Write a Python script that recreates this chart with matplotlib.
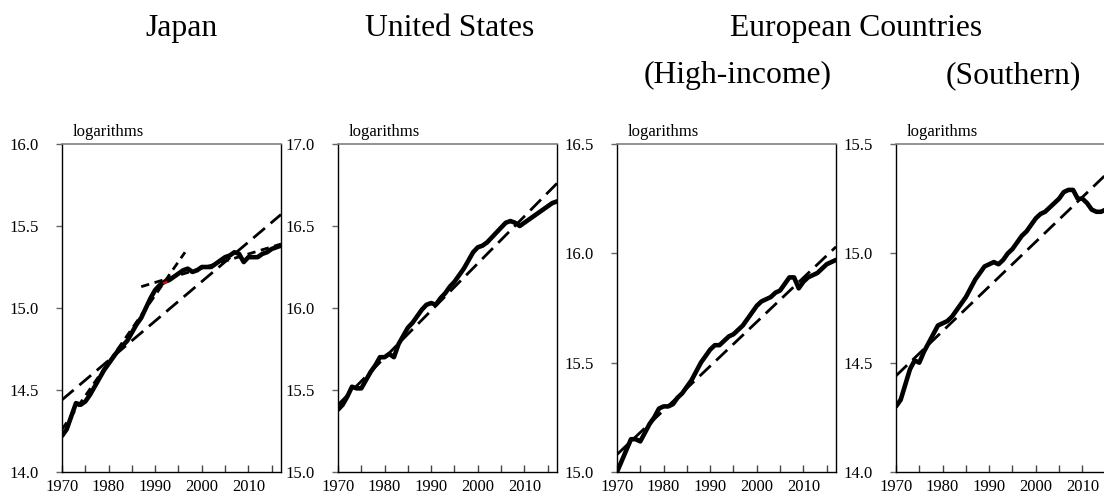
import matplotlib
matplotlib.use("Agg")
import matplotlib.pyplot as plt
from matplotlib.ticker import MultipleLocator, FixedLocator, FormatStrFormatter

plt.rcParams["font.family"] = ["Liberation Serif", "DejaVu Serif"]

years = list(range(1970, 2018))

# log levels, 1970-2017
japan = [14.22, 14.26, 14.34, 14.42, 14.41, 14.43, 14.47, 14.52, 14.57, 14.62,
         14.66, 14.70, 14.74, 14.77, 14.80, 14.85, 14.90, 14.94, 15.00, 15.06,
         15.11, 15.14, 15.16, 15.17, 15.19, 15.21, 15.23, 15.24, 15.22, 15.23,
         15.25, 15.25, 15.25, 15.27, 15.29, 15.31, 15.32, 15.34, 15.33, 15.28,
         15.31, 15.31, 15.31, 15.33, 15.34, 15.36, 15.37, 15.38]
usa = [15.38, 15.41, 15.46, 15.52, 15.51, 15.51, 15.56, 15.61, 15.65, 15.70,
       15.70, 15.72, 15.70, 15.78, 15.83, 15.88, 15.91, 15.95, 15.99, 16.02,
       16.03, 16.02, 16.06, 16.09, 16.13, 16.16, 16.20, 16.24, 16.29, 16.34,
       16.37, 16.38, 16.40, 16.43, 16.46, 16.49, 16.52, 16.53, 16.52, 16.50,
       16.52, 16.54, 16.56, 16.58, 16.60, 16.62, 16.64, 16.65]
eu_high = [15.00, 15.05, 15.10, 15.15, 15.15, 15.14, 15.18, 15.22, 15.25, 15.29,
           15.30, 15.30, 15.31, 15.34, 15.36, 15.39, 15.42, 15.46, 15.50, 15.53,
           15.56, 15.58, 15.58, 15.60, 15.62, 15.63, 15.65, 15.67, 15.70, 15.73,
           15.76, 15.78, 15.79, 15.80, 15.82, 15.83, 15.86, 15.89, 15.89, 15.84,
           15.87, 15.89, 15.90, 15.91, 15.93, 15.95, 15.96, 15.97]
eu_south = [14.30, 14.33, 14.40, 14.47, 14.51, 14.50, 14.55, 14.59, 14.63, 14.67,
            14.68, 14.69, 14.71, 14.74, 14.77, 14.80, 14.84, 14.88, 14.91, 14.94,
            14.95, 14.96, 14.95, 14.97, 15.00, 15.02, 15.05, 15.08, 15.10, 15.13,
            15.16, 15.18, 15.19, 15.21, 15.23, 15.25, 15.28, 15.29, 15.29, 15.25,
            15.25, 15.23, 15.20, 15.19, 15.19, 15.20, 15.21, 15.22]

# long-dashed linear trends (start, end)
trend_years = [1970, 2017]
japan_trend = [14.44, 15.57]
usa_trend = [15.41, 16.76]
eu_high_trend = [15.08, 16.03]
eu_south_trend = [14.44, 15.40]

# Japan: short-dashed sub-period trends
japan_pre_years = [1970, 1996.4]
japan_pre = [14.26, 15.34]
japan_post_years = [1987, 2017]
japan_post = [15.13, 15.39]

ylims = [(14.0, 16.0), (15.0, 17.0), (15.0, 16.5), (14.0, 15.5)]
series = [japan, usa, eu_high, eu_south]
trends = [japan_trend, usa_trend, eu_high_trend, eu_south_trend]

fig = plt.figure(figsize=(11.04, 4.99), dpi=100)
W, H = 1104, 499
lefts = [62, 338, 617, 896]
top_px, bot_px, width_px = 144, 472, 219

for i in range(4):
    ax = fig.add_axes([lefts[i] / W, 1 - bot_px / H, width_px / W, (bot_px - top_px) / H])
    ax.plot(years, series[i], color="black", lw=3.3, solid_capstyle="round",
            solid_joinstyle="round", zorder=3)
    ax.plot(trend_years, trends[i], color="black", lw=2.0, dashes=(5.5, 2.7), zorder=2)
    if i == 0:
        ax.plot(japan_pre_years, japan_pre, color="black", lw=2.0, dashes=(3.0, 2.0), zorder=2)
        ax.plot(japan_post_years, japan_post, color="black", lw=2.0, dashes=(3.0, 2.0), zorder=2)
        ax.plot([1991.9, 1992.4], [15.152, 15.158], color="red", lw=1.5, zorder=4)

    ax.set_xlim(1970, 2017)
    ax.set_ylim(*ylims[i])
    ax.xaxis.set_major_locator(FixedLocator([1970, 1980, 1990, 2000, 2010]))
    ax.xaxis.set_minor_locator(FixedLocator([1975, 1985, 1995, 2005, 2015]))
    ax.yaxis.set_major_locator(MultipleLocator(0.5))
    ax.yaxis.set_major_formatter(FormatStrFormatter("%.1f"))
    ax.tick_params(axis="x", which="both", direction="in", length=5, width=1,
                   color="#444444", labelsize=12, pad=5)
    ax.tick_params(axis="y", direction="out", length=4, width=1,
                   color="#666666", labelsize=12, pad=13)
    for side in ["left", "right", "bottom"]:
        ax.spines[side].set_color("black")
        ax.spines[side].set_linewidth(1.0)
    ax.spines["top"].set_color("#808080")
    ax.spines["top"].set_linewidth(1.2)
    ax.text(0.05, 1.012, "logarithms", transform=ax.transAxes, fontsize=12,
            ha="left", va="bottom")

title_size = 22.8
fig.text(182 / W, 1 - 36 / H, "Japan", fontsize=title_size, ha="center", va="baseline")
fig.text(449.5 / W, 1 - 36 / H, "United States", fontsize=title_size, ha="center", va="baseline")
fig.text(856 / W, 1 - 36 / H, "European Countries", fontsize=title_size, ha="center", va="baseline")
fig.text(737.5 / W, 1 - 83 / H, "(High-income)", fontsize=title_size, ha="center", va="baseline")
fig.text(1013.5 / W, 1 - 83 / H, "(Southern)", fontsize=title_size, ha="center", va="baseline")

fig.savefig("out.png", dpi=100)
